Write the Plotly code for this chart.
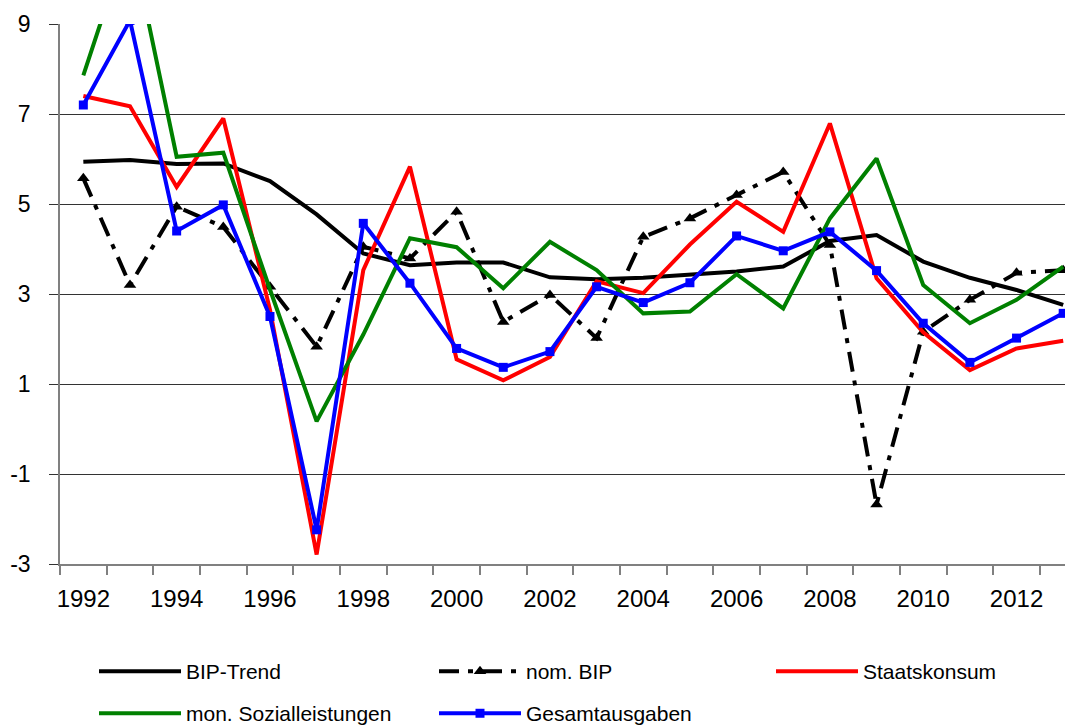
import plotly.graph_objects as go

years = [str(y) for y in range(1992, 2014)]

bip_trend = [5.94, 5.98, 5.89, 5.90, 5.51, 4.77, 3.90, 3.64, 3.70, 3.70, 3.37,
             3.33, 3.36, 3.42, 3.50, 3.61, 4.18, 4.31, 3.72, 3.36, 3.09, 2.76]
nom_bip = [5.57, 3.20, 4.94, 4.49, 3.16, 1.83, 4.05, 3.79, 4.83, 2.38, 2.98,
           2.02, 4.27, 4.68, 5.20, 5.71, 4.09, -1.68, 2.16, 2.87, 3.47, 3.53]
staatskonsum = [7.40, 7.17, 5.38, 6.90, 2.65, -2.79, 3.53, 5.83, 1.55, 1.08, 1.60,
                3.28, 3.02, 4.10, 5.05, 4.38, 6.79, 3.35, 2.15, 1.31, 1.79, 1.96]
sozialleistungen = [7.86, 11.0, 6.05, 6.14, 3.10, 0.17, 2.10, 4.24, 4.04, 3.13, 4.16,
                    3.53, 2.57, 2.61, 3.44, 2.68, 4.68, 6.01, 3.20, 2.35, 2.87, 3.61]
gesamtausgaben = [7.20, 9.08, 4.40, 4.98, 2.50, -2.24, 4.57, 3.24, 1.79, 1.37, 1.72,
                  3.16, 2.81, 3.25, 4.29, 3.96, 4.38, 3.52, 2.35, 1.48, 2.02, 2.57]

series_names = ["BIP-Trend", "nom. BIP", "Staatskonsum", "mon. Sozialleistungen", "Gesamtausgaben"]
tick_years = years[::2]
y_ticks = [-3, -1, 1, 3, 5, 7, 9]
y_tick_labels = ["-3", "-1", "1", "3", "5", "7", "9"]

xi = list(range(len(years)))
FONT = "Liberation Sans, Arial, sans-serif"

fig = go.Figure()
fig.add_trace(go.Scatter(x=xi, y=bip_trend, name=series_names[0], mode="lines",
                         line=dict(color="#000000", width=4), legend="legend"))
fig.add_trace(go.Scatter(x=xi, y=nom_bip, name=series_names[1], mode="lines+markers",
                         line=dict(color="#000000", width=4, dash="20px,9px,5px,9px"),
                         marker=dict(symbol="triangle-up", size=11, color="#000000"),
                         legend="legend2"))
fig.add_trace(go.Scatter(x=xi, y=staatskonsum, name=series_names[2], mode="lines",
                         line=dict(color="#FF0000", width=4), legend="legend3"))
fig.add_trace(go.Scatter(x=xi, y=sozialleistungen, name=series_names[3], mode="lines",
                         line=dict(color="#008000", width=4), legend="legend4"))
fig.add_trace(go.Scatter(x=xi, y=gesamtausgaben, name=series_names[4], mode="lines+markers",
                         line=dict(color="#0000FF", width=4),
                         marker=dict(symbol="square", size=9, color="#0000FF"),
                         legend="legend5"))

# page body has an 8px margin: figure is 8px smaller and all positions are offset by 8px
W, H = 1065, 717
L, T = 52, 16
plot_bottom = 556.3
B = H - plot_bottom
PW = W - L
PH = plot_bottom - T

leg_common = dict(font=dict(family=FONT, size=21, color="#000000"), bgcolor="rgba(0,0,0,0)",
                  borderwidth=0, itemwidth=82, xanchor="left", yanchor="middle",
                  orientation="v")
row1 = (plot_bottom - 664) / PH
row2 = (plot_bottom - 706) / PH
c1 = (86 - L) / PW
c2 = (426 - L) / PW
c3 = (763 - L) / PW

fig.update_layout(
    width=W, height=H,
    margin=dict(l=L, r=0, t=T, b=B, autoexpand=False),
    paper_bgcolor="white", plot_bgcolor="white",
    font=dict(family=FONT, color="#000000"),
    showlegend=True,
    legend=dict(x=c1, y=row1, **leg_common),
    legend2=dict(x=c2, y=row1, **leg_common),
    legend3=dict(x=c3, y=row1, **leg_common),
    legend4=dict(x=c1, y=row2, **leg_common),
    legend5=dict(x=c2, y=row2, **leg_common),
    xaxis=dict(
        range=[-0.5, 21.21], automargin=False,
        tickmode="array", tickvals=xi[::2], ticktext=tick_years,
        ticks="", showgrid=False, zeroline=False,
        showline=True, linecolor="#808080", linewidth=1.5,
        tickfont=dict(family=FONT, size=24, color="#000000"),
        ticklabelstandoff=12,
        minor=dict(tickmode="array", tickvals=[i - 0.5 for i in range(23)],
                   ticks="outside", ticklen=9, tickcolor="#808080", tickwidth=1.5,
                   showgrid=False),
    ),
    yaxis=dict(
        range=[-3, 9], automargin=False,
        tickmode="array", tickvals=y_ticks, ticktext=y_tick_labels,
        showgrid=True, gridcolor="#333333", gridwidth=1,
        zeroline=False, showline=True, linecolor="#808080", linewidth=1.5,
        ticks="outside", ticklen=9, tickcolor="#333333", tickwidth=1,
        tickfont=dict(family=FONT, size=23, color="#000000"),
        ticklabelstandoff=14,
    ),
)

fig.write_html("out.html")
